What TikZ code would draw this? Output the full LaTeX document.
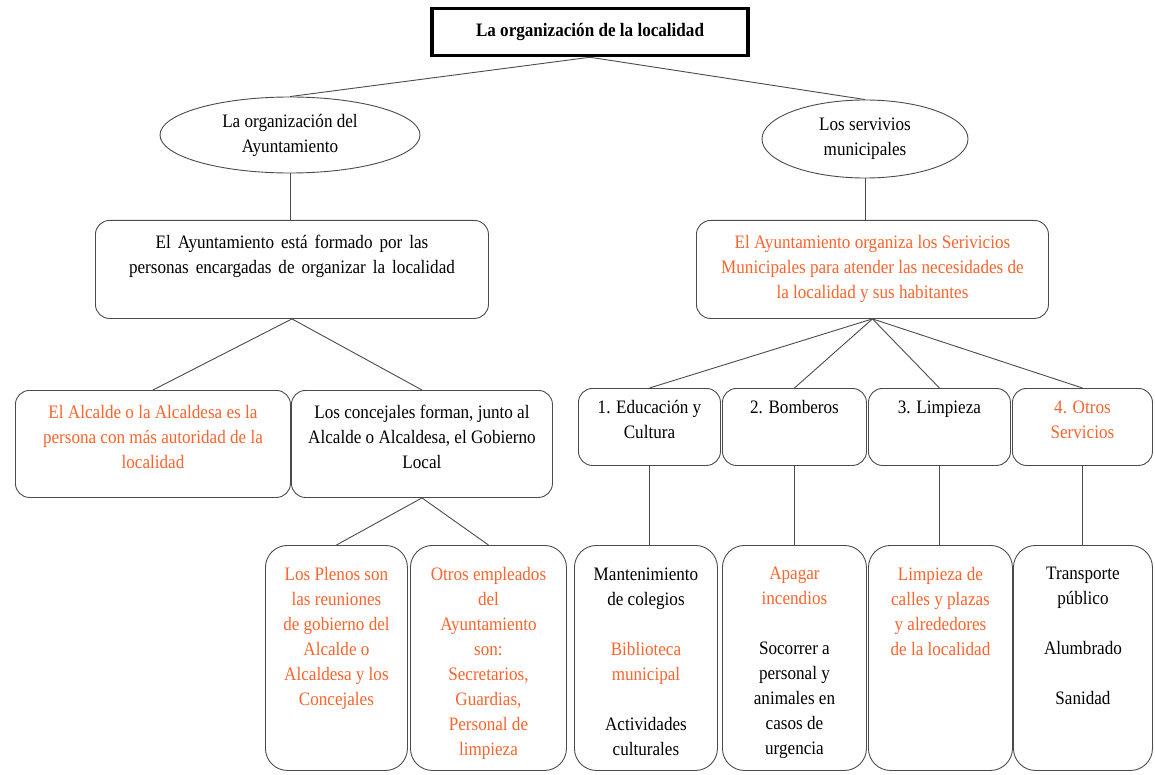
\documentclass[tikz,border=0pt]{standalone}
\usepackage{fontspec}
\setmainfont[FakeStretch=0.9]{Liberation Serif}
\usepackage{xcolor}
\usetikzlibrary{shapes.geometric}
\definecolor{naranja}{RGB}{250,100,45}
\definecolor{borde}{RGB}{75,75,75}
% texto de una caja: ancho, alto, margen superior, contenido
\newcommand{\textocaja}[4]{\parbox[c][#2][t]{#1}{\centering\vspace*{#3}#4}}

\begin{document}
\begin{tikzpicture}[x=1pt,y=-1pt,
  font=\fontsize{19}{25}\selectfont,
  caja/.style={draw=borde, line width=0.9pt, rounded corners=14pt, inner sep=0pt, anchor=north west},
  cajabaja/.style={caja, rounded corners=22pt},
  elipse/.style={draw=borde, line width=0.9pt, ellipse, inner sep=0pt, align=center},
  linea/.style={draw=borde, line width=0.9pt}]
\useasboundingbox (0,0) rectangle (1155,775);
%
\node[draw, line width=3.5pt, minimum width=316pt, minimum height=47pt,
  font=\fontsize{19}{20}\selectfont\bfseries] (titulo) at (590,32) {La organización de la localidad};
%
\node[elipse, minimum width=260pt, minimum height=76pt] (ayto) at (290,135) {La organización del\\Ayuntamiento};
\node[elipse, minimum width=206pt, minimum height=78pt] (serv) at (865,139) {Los servivios\\municipales};
%
\node[caja] (formado) at (95,220) {\textocaja{393pt}{98pt}{15pt}{\spaceskip=7pt plus 2pt El Ayuntamiento está formado por las\\personas encargadas de organizar la localidad}};
\node[caja, text=naranja] (organiza) at (696,220) {\textocaja{352pt}{98pt}{15pt}{El Ayuntamiento organiza los Serivicios\\Municipales para atender las necesidades de\\la localidad y sus habitantes}};
%
\node[caja, text=naranja] (alcalde) at (15,390) {\textocaja{275pt}{107pt}{15pt}{El Alcalde o la Alcaldesa es la\\persona con más autoridad de la\\localidad}};
\node[caja] (concejales) at (291,390) {\textocaja{261pt}{107pt}{15pt}{Los concejales forman, junto al\\Alcalde o Alcaldesa, el Gobierno\\Local}};
%
\node[cajabaja, text=naranja] (plenos) at (265,545) {\textocaja{142pt}{225pt}{22pt}{Los Plenos son\\las reuniones\\de gobierno del\\Alcalde o\\Alcaldesa y los\\Concejales}};
\node[cajabaja, text=naranja] (empleados) at (410,545) {\textocaja{156pt}{225pt}{22pt}{Otros empleados\\del\\Ayuntamiento\\son:\\Secretarios,\\Guardias,\\Personal de\\limpieza}};
%
\node[caja] (educacion) at (578,388) {\textocaja{142pt}{77pt}{12pt}{1. Educación y\\Cultura}};
\node[caja] (bomberos) at (722,388) {\textocaja{144pt}{77pt}{12pt}{2. Bomberos}};
\node[caja] (limpieza) at (868,388) {\textocaja{142pt}{77pt}{12pt}{3. Limpieza}};
\node[caja, text=naranja] (otros) at (1012,388) {\textocaja{140pt}{77pt}{12pt}{4. Otros\\Servicios}};
%
\node[cajabaja] (colegios) at (574,545) {\textocaja{143pt}{225pt}{22pt}{Mantenimiento\\de colegios\\[25pt]\textcolor{naranja}{Biblioteca\\municipal}\\[25pt]Actividades\\culturales}};
\node[cajabaja] (incendios) at (722,545) {\textocaja{144pt}{225pt}{22pt}{\textcolor{naranja}{Apagar\\incendios}\\[25pt]Socorrer a\\personal y\\animales en\\casos de\\urgencia}};
\node[cajabaja, text=naranja] (calles) at (868,545) {\textocaja{144pt}{225pt}{22pt}{Limpieza de\\calles y plazas\\y alrededores\\de la localidad}};
\node[cajabaja] (transporte) at (1013,545) {\textocaja{139pt}{225pt}{22pt}{Transporte\\público\\[25pt]Alumbrado\\[25pt]Sanidad}};
%
\draw[linea] (titulo.south) -- (ayto.north);
\draw[linea] (titulo.south) -- (serv.north);
\draw[linea] (ayto.south) -- (ayto.south |- formado.north);
\draw[linea] (serv.south) -- (serv.south |- organiza.north);
\draw[linea] (alcalde.north) -- (formado.south) -- (concejales.north);
\draw[linea] (plenos.north) -- (concejales.south) -- (empleados.north);
\foreach \s in {educacion,bomberos,limpieza,otros}
  \draw[linea] (organiza.south) -- (\s.north);
\foreach \a/\b in {educacion/colegios,bomberos/incendios,limpieza/calles,otros/transporte}
  \draw[linea] (\a.south) -- (\a.south |- \b.north);
\end{tikzpicture}
\end{document}
